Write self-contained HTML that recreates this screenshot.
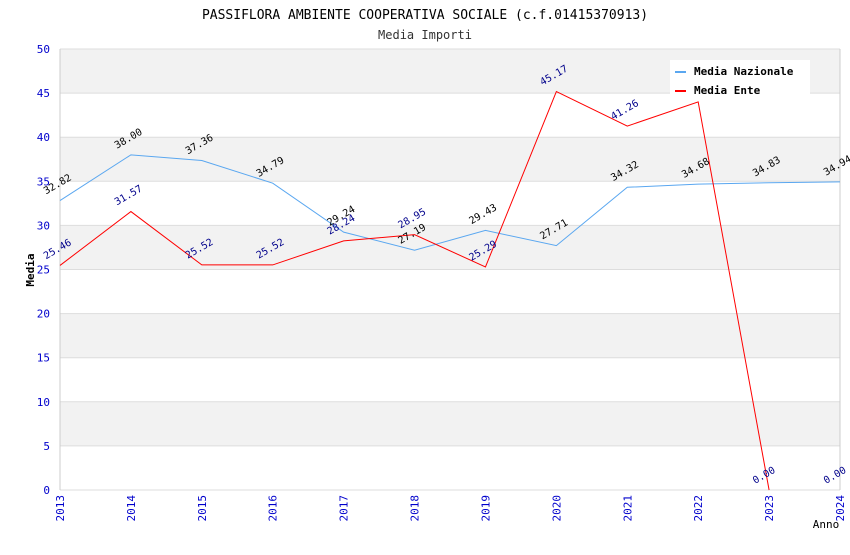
<!DOCTYPE html>
<html><head><meta charset="utf-8"><style>
body{margin:0;background:#fff;}
svg text{font-family:"DejaVu Sans Mono","Liberation Mono",monospace;}
</style></head><body>
<svg id="chart" width="850" height="550" xmlns="http://www.w3.org/2000/svg">
<text x="425" y="19" text-anchor="middle" font-size="13" fill="#000">PASSIFLORA AMBIENTE COOPERATIVA SOCIALE (c.f.01415370913)</text>
<text x="425" y="39" text-anchor="middle" font-size="12" fill="#333">Media Importi</text>
<g id="bands"></g>
<g id="grid"></g>
<g id="axes"></g>
<g id="series"></g>
<g id="labels"></g>
<text x="34" y="270" transform="rotate(-90 34 270)" text-anchor="middle" font-size="11" font-weight="bold">Media</text>
<text x="826" y="528" text-anchor="middle" font-size="11">Anno</text>
<g>
<rect x="670" y="60" width="140" height="36" fill="#fff"/>
<line x1="675" y1="72" x2="686" y2="72" stroke="#5aa7f0" stroke-width="2"/>
<text x="694" y="75" font-size="11" font-weight="bold">Media Nazionale</text>
<line x1="675" y1="91" x2="686" y2="91" stroke="#f00" stroke-width="2"/>
<text x="694" y="94" font-size="11" font-weight="bold">Media Ente</text>
</g>
</svg>
<script>
const years=[2013,2014,2015,2016,2017,2018,2019,2020,2021,2022,2023,2024];
const nazionale=[32.82,38.00,37.36,34.79,29.24,27.19,29.43,27.71,34.32,34.68,34.83,34.94];
const ente=[25.46,31.57,25.52,25.52,28.24,28.95,25.29,45.17,41.26,44.0,0.00,0.00];
const enteLabels=["25.46","31.57","25.52","25.52","28.24","28.95","25.29","45.17","41.26","","0.00","0.00"];
const yTicks=[0,5,10,15,20,25,30,35,40,45,50];
const NS="http://www.w3.org/2000/svg";
const X0=60,X1=840,Y0=490,Y1=49;
const xs=i=>X0+(X1-X0)*i/(years.length-1);
const ys=v=>Y0-(Y0-Y1)*v/50;
function mk(tag,attrs,parent){const e=document.createElementNS(NS,tag);for(const k in attrs)e.setAttribute(k,attrs[k]);document.getElementById(parent).appendChild(e);return e;}
for(let i=0;i<yTicks.length-1;i++){
  const a=yTicks[i],b=yTicks[i+1];
  const r=mk('rect',{x:X0,y:ys(b),width:X1-X0,height:ys(a)-ys(b),fill:(i%2===1)?'#f2f2f2':'#fff'},'bands');
  
  
}
yTicks.forEach(t=>{
  const l=mk('line',{x1:X0,x2:X1,y1:ys(t),y2:ys(t),stroke:'#ddd','stroke-width':1},'grid');
  
  
  const tx=mk('text',{x:X0-10,y:ys(t)+4,'text-anchor':'end','font-size':11,fill:'#00c'},'axes');
  tx.textContent=t;
  
  
});
const ax=mk('line',{x1:X0,x2:X0,y1:Y1,y2:Y0,stroke:'#ccc'},'axes');


const ax2=mk('line',{x1:X1,x2:X1,y1:Y1,y2:Y0,stroke:'#ccc'},'axes');


years.forEach((y,i)=>{
  const x=xs(i);
  const tx=mk('text',{x:x+4,y:Y0+5,'text-anchor':'end','font-size':11,fill:'#00c',transform:`rotate(-90 ${x+4} ${Y0+5})`},'axes');
  tx.textContent=y;
  
  
});
const pn=mk('polyline',{points:nazionale.map((v,i)=>xs(i)+','+ys(v)).join(' '),fill:'none',stroke:'#5aa7f0','stroke-width':1},'series');


const pe=mk('polyline',{points:ente.slice(0,11).map((v,i)=>xs(i)+','+ys(v)).join(' '),fill:'none',stroke:'#f00','stroke-width':1},'series');


nazionale.forEach((v,i)=>{
  const x=xs(i)-14,y=ys(v)-6;
  const t=mk('text',{x:x,y:y,'font-size':10,fill:'#000',transform:`rotate(-30 ${x} ${y})`},'labels');
  t.textContent=v.toFixed(2);
  
  
});
ente.forEach((v,i)=>{
  if(!enteLabels[i])return;
  const x=xs(i)-14,y=ys(v)-6;
  const t=mk('text',{x:x,y:y,'font-size':10,fill:'#00008b',transform:`rotate(-30 ${x} ${y})`},'labels');
  t.textContent=enteLabels[i];
  
  
});
</script>
</body></html>
